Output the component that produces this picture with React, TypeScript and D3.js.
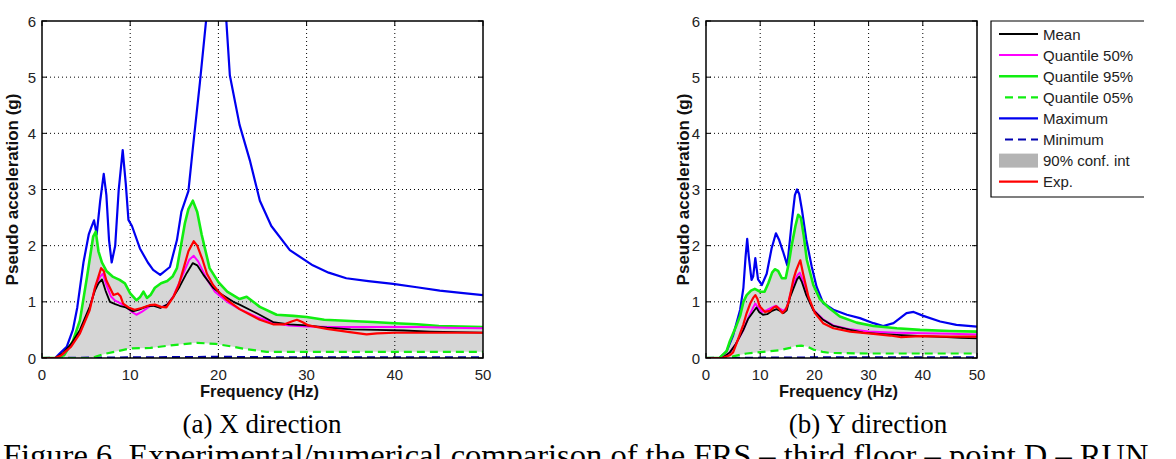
import { useEffect, useRef } from 'react';
import * as d3 from 'd3';

type Pt = [number, number];

const freqTicks = [0, 10, 20, 30, 40, 50];
const accTicks = [0, 1, 2, 3, 4, 5, 6];

const legendLabels = ['Mean', 'Quantile 50%', 'Quantile 95%', 'Quantile 05%', 'Maximum', 'Minimum', '90% conf. int', 'Exp.'];

// (a) X direction
const xMean: Pt[] = [[0,0],[1.5,0],[2.4,0.09],[3.3,0.25],[4.3,0.5],[5.4,0.91],[6.0,1.2],[6.4,1.33],[6.8,1.4],[7.2,1.2],[7.7,1.0],[8.3,0.96],[8.8,0.93],[9.5,0.9],[10.3,0.83],[11,0.86],[11.9,0.92],[12.6,0.93],[13.4,0.89],[14.2,0.95],[14.9,1.09],[15.6,1.27],[16.4,1.51],[17.1,1.69],[17.6,1.65],[18.3,1.48],[19.4,1.25],[20.2,1.15],[21.7,1.0],[22.4,0.95],[24.3,0.8],[26.2,0.64],[28,0.6],[30,0.58],[32.3,0.54],[35,0.51],[38,0.5],[41,0.49],[44,0.47],[47,0.46],[50,0.45]];
const xQ50: Pt[] = [[0,0],[1.5,0],[2.4,0.07],[3.3,0.22],[4.3,0.45],[5.4,0.88],[6.1,1.3],[6.6,1.45],[6.9,1.5],[7.3,1.3],[7.8,1.1],[8.3,1.02],[8.8,0.98],[9.5,0.92],[10.2,0.82],[10.7,0.77],[11.3,0.82],[12.2,0.92],[12.8,0.94],[13.5,0.9],[14.2,0.95],[14.9,1.1],[16,1.5],[16.7,1.75],[17.2,1.82],[17.7,1.72],[18.7,1.4],[19.6,1.18],[21,1.0],[22.4,0.87],[24.5,0.72],[26.5,0.62],[28,0.58],[30,0.56],[33,0.55],[36,0.55],[40,0.55],[43,0.55],[46,0.54],[50,0.53]];
const xQ95: Pt[] = [[0,0],[1.5,0],[2.5,0.05],[3.5,0.3],[4.3,0.67],[5.1,1.44],[5.8,2.16],[6.1,2.25],[6.4,1.9],[6.8,1.7],[7.3,1.55],[8,1.45],[8.8,1.39],[9.4,1.33],[10,1.15],[10.7,1.03],[11.1,1.08],[11.5,1.18],[11.9,1.07],[12.3,1.12],[12.8,1.25],[13.5,1.33],[14.2,1.37],[14.8,1.45],[15.3,1.6],[15.7,1.95],[16.2,2.4],[16.6,2.65],[17.1,2.8],[17.6,2.6],[18.1,2.2],[19,1.6],[20,1.35],[21,1.18],[22.4,1.05],[23.2,1.09],[24.7,0.91],[26.6,0.77],[28.5,0.75],[30,0.73],[32,0.68],[35,0.66],[37.5,0.64],[40,0.62],[42.5,0.6],[45,0.57],[47.5,0.56],[50,0.55]];
const xQ05: Pt[] = [[0,0],[5.6,0],[6.2,0.03],[7.3,0.08],[8.5,0.12],[10,0.17],[12.3,0.18],[14.9,0.23],[17.6,0.27],[19.7,0.25],[21.7,0.2],[23,0.16],[25.5,0.11],[30,0.11],[35,0.11],[40,0.11],[45,0.11],[50,0.11]];
const xMax: Pt[] = [[0,0],[1.5,0],[2.0,0.08],[2.8,0.2],[3.5,0.5],[4.0,0.9],[4.7,1.7],[5.3,2.2],[5.6,2.33],[5.9,2.45],[6.2,2.2],[6.6,2.8],[7.0,3.28],[7.3,2.9],[7.6,2.1],[7.9,1.7],[8.3,2.0],[8.7,3.0],[9.15,3.7],[9.5,3.1],[9.8,2.46],[10.2,2.35],[11.1,1.95],[12,1.7],[12.6,1.57],[13.4,1.48],[14.5,1.62],[15.3,2.1],[15.8,2.6],[16.6,2.97],[17.1,3.73],[17.9,4.9],[18.6,6.0],[19.2,6.8],[19.8,7.0],[20.4,6.6],[20.9,6.0],[21.3,5.03],[22.4,4.15],[23.6,3.5],[24.7,2.8],[26,2.35],[28.1,1.92],[30.7,1.65],[32.5,1.52],[34.5,1.42],[37,1.37],[39.8,1.32],[42.5,1.26],[45.1,1.2],[47.5,1.16],[50,1.12]];
const xMin: Pt[] = [[0,0],[10,0.01],[20,0.02],[30,0.01],[50,0.01]];
const xExp: Pt[] = [[0,0],[1.5,0],[2.2,0.05],[3.3,0.2],[4.3,0.44],[5.4,0.85],[6.0,1.25],[6.4,1.45],[6.7,1.6],[7.0,1.55],[7.3,1.38],[7.7,1.25],[8.1,1.12],[8.6,1.15],[8.9,1.1],[9.2,0.97],[9.8,0.9],[10.5,0.86],[11.3,0.89],[12.2,0.94],[12.8,0.95],[13.5,0.91],[14.1,0.9],[14.9,1.09],[15.5,1.3],[16,1.57],[16.6,1.9],[17.2,2.08],[17.6,2.0],[18.2,1.75],[18.7,1.5],[19.4,1.3],[20.2,1.15],[21,1.03],[22.4,0.87],[23.5,0.78],[24.7,0.68],[26.2,0.6],[27.5,0.6],[28.3,0.65],[28.9,0.68],[29.5,0.64],[30.2,0.58],[32.3,0.52],[34.9,0.46],[36.8,0.42],[38,0.44],[40,0.45],[45,0.45],[50,0.45]];

// (b) Y direction
const yMean: Pt[] = [[0,0],[3,0],[4.4,0.1],[5.5,0.25],[6.9,0.5],[7.8,0.7],[8.7,0.82],[9.3,0.9],[9.8,0.82],[10.5,0.77],[11.3,0.78],[12.2,0.84],[13,0.87],[13.6,0.84],[14.3,0.8],[14.9,0.85],[15.5,1.08],[16.2,1.25],[16.8,1.4],[17.2,1.45],[17.7,1.35],[18.5,1.12],[19.8,0.85],[21.6,0.68],[23.5,0.57],[26.6,0.5],[29,0.45],[32,0.43],[35.2,0.41],[40,0.39],[44.4,0.37],[47,0.36],[50,0.35]];
const yQ50: Pt[] = [[0,0],[3,0],[4.4,0.1],[5.5,0.25],[6.9,0.5],[7.8,0.72],[8.6,0.88],[9.1,0.97],[9.6,0.9],[10.3,0.82],[11.2,0.85],[12.2,0.9],[12.9,0.93],[13.6,0.88],[14.3,0.84],[14.9,0.9],[15.6,1.15],[16.3,1.35],[16.9,1.48],[17.3,1.52],[17.8,1.4],[18.6,1.12],[19.8,0.86],[21.6,0.69],[23.5,0.58],[26.6,0.51],[30,0.47],[35,0.45],[40,0.44],[45,0.43],[50,0.42]];
const yQ95: Pt[] = [[0,0],[2.5,0],[3.8,0.12],[4.4,0.3],[5.5,0.55],[6.3,0.75],[6.9,1.0],[7.5,1.12],[8.3,1.2],[9,1.23],[10,1.18],[10.8,1.18],[11.5,1.33],[12.2,1.52],[12.7,1.58],[13.3,1.55],[14,1.42],[14.7,1.42],[15.3,1.7],[15.8,2.0],[16.5,2.35],[17.0,2.55],[17.5,2.5],[18,2.2],[18.6,1.75],[19.8,1.3],[21,1.05],[22.6,0.9],[24.7,0.74],[27.8,0.63],[30.9,0.57],[35.2,0.53],[39.5,0.5],[45,0.48],[50,0.47]];
const yQ05: Pt[] = [[0,0],[3,0],[5,0.03],[7.5,0.08],[10.6,0.11],[13.7,0.14],[15.5,0.18],[16.4,0.21],[17.6,0.22],[18.8,0.2],[19.8,0.15],[21.5,0.11],[22.9,0.09],[30,0.08],[40,0.08],[50,0.08]];
const yMax: Pt[] = [[0,0],[2.5,0],[3.8,0.12],[5.0,0.4],[6.3,0.86],[6.9,1.25],[7.3,1.8],[7.6,2.12],[7.9,1.8],[8.4,1.39],[8.7,1.45],[9.1,1.78],[9.6,1.4],[10.3,1.3],[11.2,1.5],[12.1,1.95],[12.9,2.22],[13.5,2.1],[14.2,1.9],[15,1.65],[15.8,2.4],[16.4,2.9],[16.8,3.0],[17.2,2.92],[17.7,2.64],[18.5,2.11],[19.5,1.63],[20.4,1.27],[21.6,0.98],[23.5,0.86],[26,0.77],[28.4,0.71],[30.9,0.62],[32.7,0.57],[34.6,0.62],[35.8,0.71],[37,0.8],[38.3,0.82],[40.1,0.75],[43.2,0.65],[46.2,0.59],[50,0.56]];
const yMin: Pt[] = [[0,0],[20,0.01],[50,0.01]];
const yExp: Pt[] = [[0,0],[3,0],[4.4,0.05],[5,0.1],[5.6,0.25],[6.3,0.44],[6.9,0.6],[7.5,0.8],[8.2,0.98],[8.7,1.07],[9.1,1.12],[9.5,1.05],[9.9,0.92],[10.9,0.82],[11.8,0.84],[12.5,0.9],[13,0.92],[13.6,0.86],[14.1,0.8],[14.7,0.86],[15.2,0.98],[15.7,1.2],[16.1,1.39],[16.6,1.55],[17.0,1.65],[17.4,1.74],[17.9,1.51],[18.9,1.09],[20.1,0.8],[21.6,0.62],[23.5,0.53],[26.6,0.47],[30.9,0.43],[34,0.4],[36,0.37],[39.5,0.39],[45,0.38],[50,0.38]];

const SANS = 'Liberation Sans, Arial, sans-serif';
const SERIF = 'Liberation Serif, Times New Roman, serif';

const STYLE = {
  mean: { color: '#000000', width: 1.8, dash: null },
  q50: { color: '#ff00ff', width: 2, dash: null },
  q95: { color: '#11ee11', width: 2.6, dash: null },
  q05: { color: '#11ee11', width: 2.2, dash: '8,5' },
  max: { color: '#0000f0', width: 2.2, dash: null },
  min: { color: '#0000b0', width: 2.2, dash: '8,5' },
  exp: { color: '#ff0000', width: 2.2, dash: null },
};

function drawPanel(svg, id, box, d) {
  const x = d3.scaleLinear().domain([0, 50]).range([box.left, box.right]);
  const y = d3.scaleLinear().domain([0, 6]).range([box.bottom, box.top]);

  svg.append('clipPath').attr('id', id)
    .append('rect')
    .attr('x', box.left).attr('y', box.top)
    .attr('width', box.right - box.left).attr('height', box.bottom - box.top);

  const g = svg.append('g').attr('clip-path', `url(#${id})`);
  const line = d3.line<Pt>().x(p => x(p[0])).y(p => y(p[1]));

  // 90% band between q05 and q95
  g.append('path')
    .attr('d', line([...d.q95, ...d.q05.slice().reverse()]) + 'Z')
    .attr('fill', '#d6d6d6')
    .attr('stroke', 'none');

  // dotted grid
  freqTicks.slice(1, -1).forEach(t => {
    g.append('line')
      .attr('x1', x(t)).attr('x2', x(t)).attr('y1', box.top).attr('y2', box.bottom)
      .attr('stroke', '#000').attr('stroke-width', 1).attr('stroke-dasharray', '1,3');
  });
  accTicks.slice(1, -1).forEach(t => {
    g.append('line')
      .attr('x1', box.left).attr('x2', box.right).attr('y1', y(t)).attr('y2', y(t))
      .attr('stroke', '#000').attr('stroke-width', 1).attr('stroke-dasharray', '1,3');
  });

  ['min', 'q05', 'max', 'q95', 'q50', 'mean', 'exp'].forEach(k => {
    const s = STYLE[k];
    g.append('path')
      .attr('d', line(d[k]))
      .attr('fill', 'none')
      .attr('stroke', s.color)
      .attr('stroke-width', s.width)
      .attr('stroke-linejoin', 'round')
      .attr('stroke-dasharray', s.dash);
  });

  // axes box + inward ticks
  svg.append('rect')
    .attr('x', box.left).attr('y', box.top)
    .attr('width', box.right - box.left).attr('height', box.bottom - box.top)
    .attr('fill', 'none').attr('stroke', '#000').attr('stroke-width', 1.5);

  const tk = svg.append('g').attr('stroke', '#000').attr('stroke-width', 1);
  freqTicks.forEach(t => {
    tk.append('line').attr('x1', x(t)).attr('x2', x(t)).attr('y1', box.bottom).attr('y2', box.bottom - 5);
    tk.append('line').attr('x1', x(t)).attr('x2', x(t)).attr('y1', box.top).attr('y2', box.top + 5);
  });
  accTicks.forEach(t => {
    tk.append('line').attr('x1', box.left).attr('x2', box.left + 5).attr('y1', y(t)).attr('y2', y(t));
    tk.append('line').attr('x1', box.right).attr('x2', box.right - 5).attr('y1', y(t)).attr('y2', y(t));
  });

  svg.append('g').selectAll('text')
    .data(freqTicks).enter().append('text')
    .attr('x', t => x(t)).attr('y', box.bottom + 22)
    .attr('text-anchor', 'middle')
    .style('font', `15px ${SANS}`).style('fill', '#222')
    .text(t => t);

  svg.append('g').selectAll('text')
    .data(accTicks).enter().append('text')
    .attr('x', box.left - 6).attr('y', t => y(t) + 5.5)
    .attr('text-anchor', 'end')
    .style('font', `15px ${SANS}`).style('fill', '#222')
    .text(t => t);

  svg.append('text')
    .attr('x', (box.left + box.right) / 2 - 3).attr('y', box.bottom + 39)
    .attr('text-anchor', 'middle')
    .style('font', `bold 16.5px ${SANS}`).style('fill', '#111')
    .text('Frequency (Hz)');

  svg.append('text')
    .attr('transform', `translate(${box.ylab},${(box.top + box.bottom) / 2}) rotate(-90)`)
    .attr('text-anchor', 'middle')
    .style('font', `bold 17px ${SANS}`).style('fill', '#111')
    .text('Pseudo acceleration (g)');
}

export default function App() {
  const svgRef = useRef(null);

  useEffect(() => {
    const svg = d3.select(svgRef.current);
    svg.selectAll('*').remove();

    drawPanel(svg, 'clipX', { left: 42, right: 483, top: 21, bottom: 358, ylab: 18 },
      { mean: xMean, q50: xQ50, q95: xQ95, q05: xQ05, max: xMax, min: xMin, exp: xExp });
    drawPanel(svg, 'clipY', { left: 706, right: 977, top: 21, bottom: 358, ylab: 689 },
      { mean: yMean, q50: yQ50, q95: yQ95, q05: yQ05, max: yMax, min: yMin, exp: yExp });

    // legend
    const lg = svg.append('g');
    lg.append('path')
      .attr('d', 'M1144,21 H991 V197 H1144')
      .attr('fill', 'none').attr('stroke', '#000').attr('stroke-width', 1.2);
    const keys = ['mean', 'q50', 'q95', 'q05', 'max', 'min', 'band', 'exp'];
    keys.forEach((k, i) => {
      const ry = 34 + i * 21.1;
      if (k === 'band') {
        lg.append('rect').attr('x', 999).attr('y', ry - 7).attr('width', 39).attr('height', 14).attr('fill', '#b4b4b4');
      } else {
        const s = STYLE[k];
        lg.append('line')
          .attr('x1', s.dash ? 1005 : 999).attr('x2', 1038).attr('y1', ry).attr('y2', ry)
          .attr('stroke', s.color).attr('stroke-width', s.width)
          .attr('stroke-dasharray', s.dash);
      }
      lg.append('text')
        .attr('x', 1043).attr('y', ry + 5.5)
        .style('font', `15px ${SANS}`).style('fill', '#222')
        .text(legendLabels[i]);
    });

    // captions
    svg.append('text').attr('x', 262).attr('y', 433).attr('text-anchor', 'middle')
      .style('font', `27px ${SERIF}`).style('fill', '#000').text('(a) X direction');
    svg.append('text').attr('x', 868).attr('y', 433).attr('text-anchor', 'middle')
      .style('font', `27px ${SERIF}`).style('fill', '#000').text('(b) Y direction');
    svg.append('text').attr('x', 3).attr('y', 466)
      .style('font', `32.5px ${SERIF}`).style('fill', '#000')
      .text('Figure 6. Experimental/numerical comparison of the FRS \u2013 third floor \u2013 point D \u2013 RUN');
  }, []);

  return (
    <svg
      ref={svgRef}
      width={1176}
      height={459}
      style={{ position: 'absolute', left: 0, top: 0, background: '#fff', display: 'block' }}
    />
  );
}
